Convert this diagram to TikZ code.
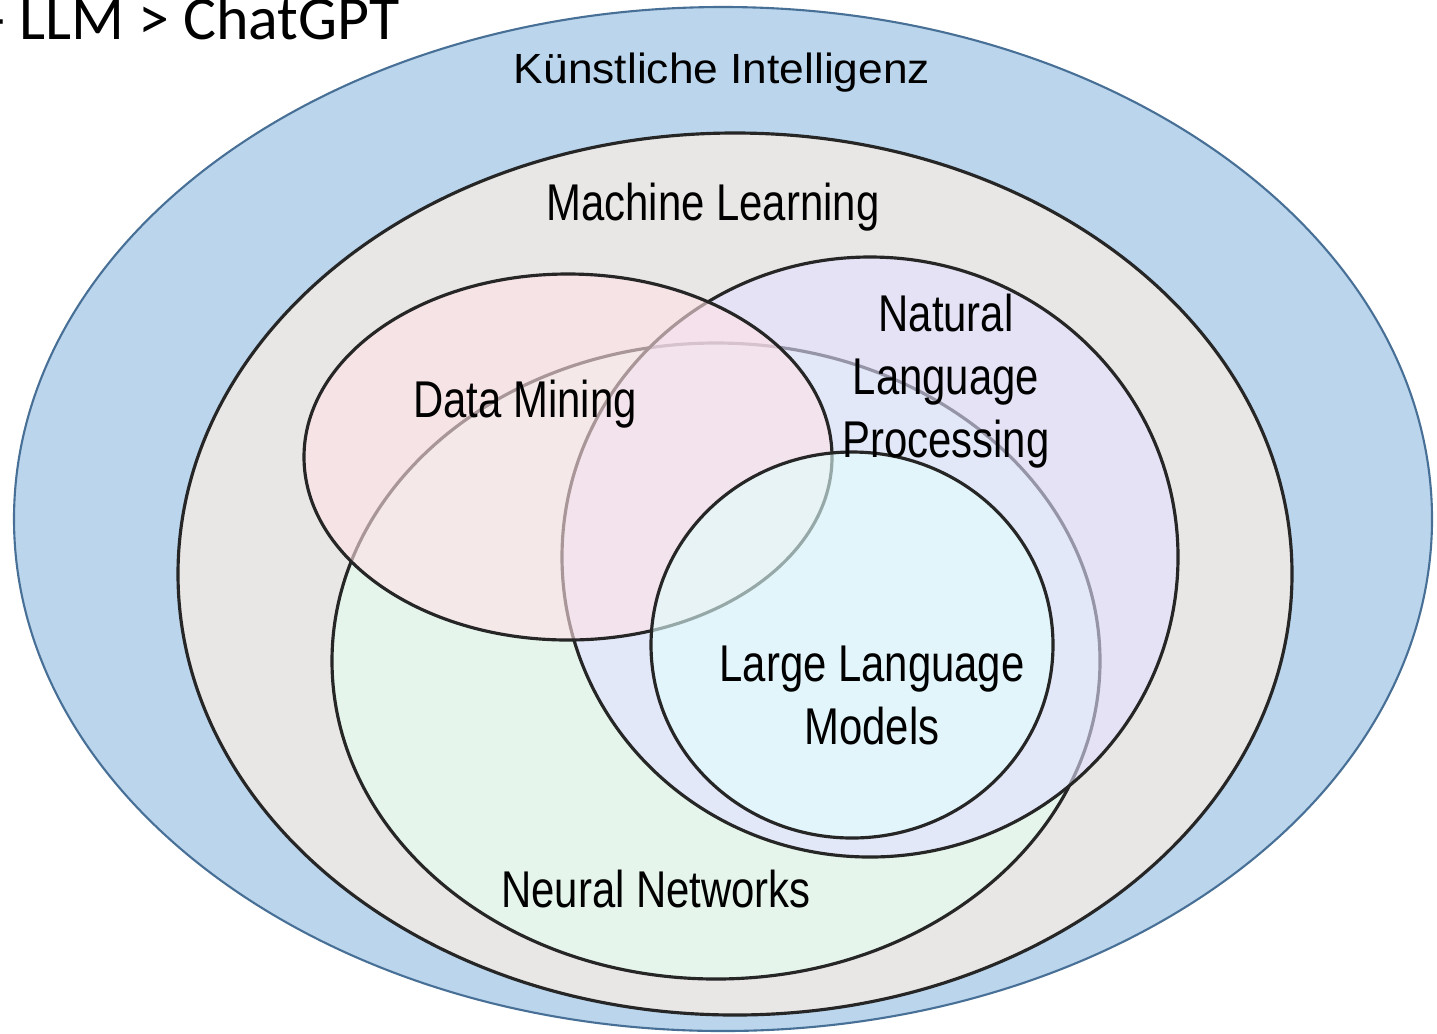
\documentclass[tikz,border=0pt]{standalone}
\usepackage{fontspec}
\setmainfont{Liberation Sans}
\newfontfamily\narrowfont[FakeStretch=0.81]{Liberation Sans}
\newfontfamily\widefont[FakeStretch=1.05]{Liberation Sans}
\newfontfamily\slidefont{Carlito}
\usepackage{tikz}

\definecolor{ki_fill}{RGB}{186,213,236}
\definecolor{ki_line}{RGB}{72,112,150}
\definecolor{ml_fill}{RGB}{233,231,229}
\definecolor{nn_fill}{RGB}{227,255,240}
\definecolor{nlp_fill}{RGB}{225,224,255}
\definecolor{dm_fill}{RGB}{255,225,230}
\definecolor{llm_fill}{RGB}{225,255,253}

\begin{document}
\begin{tikzpicture}[x=0.01cm, y=-0.01cm]
        % Define styles for the sets and their labels
        \tikzset{
            set_outer/.style={draw=ki_line, line width=0.6pt, fill=ki_fill},
            set_solid/.style={draw=black!85, line width=0.9pt},
            set_glass/.style={draw=black!85, line width=0.9pt, fill opacity=0.6},
            set_label/.style={inner sep=0pt, anchor=base, align=center,
                font=\narrowfont\fontsize{14.7}{17.9}\selectfont}
        }

        \useasboundingbox (0,0) rectangle (1437,1033);
        \clip (0,0) rectangle (1437,1033);

        % Outer set: Kuenstliche Intelligenz
        \draw[set_outer] (723,519) ellipse [x radius=709, y radius=512];

        % Machine Learning
        \draw[set_solid, fill=ml_fill] (735,574) ellipse [x radius=557, y radius=441];

        % Neural Networks, then NLP, Data Mining and LLM on top (see-through)
        \draw[set_glass, fill=nn_fill] (716,661) ellipse [x radius=384, y radius=318];
        \draw[set_glass, fill=nlp_fill] (870,557) ellipse [x radius=308, y radius=300];
        \draw[set_glass, fill=dm_fill] (568,457) ellipse [x radius=264, y radius=183];
        \draw[set_glass, fill=llm_fill] (852,645) ellipse [x radius=201, y radius=193];

        % Labels (base of a two- or three-line label is its last line)
        \node[inner sep=0pt, anchor=base, font=\widefont\fontsize{12}{14}\selectfont] (ki) at (722,83) {Künstliche Intelligenz};
        \node[set_label] (ml) at (713,220) {Machine Learning};
        \node[set_label] (dm) at (525,417) {Data Mining};
        \node[set_label] (nlp) at (946,457) {Natural\\Language\\Processing};
        \node[set_label] (llm) at (872,744) {Large Language\\Models};
        \node[set_label] (nn) at (656,907) {Neural Networks};

        % Slide heading, cut at the top edge
        \node[inner sep=0pt, anchor=base west, font=\slidefont\fontsize{17.6}{20}\selectfont] (title) at (-14,39) {- LLM > ChatGPT};

    \end{tikzpicture}
\end{document}
